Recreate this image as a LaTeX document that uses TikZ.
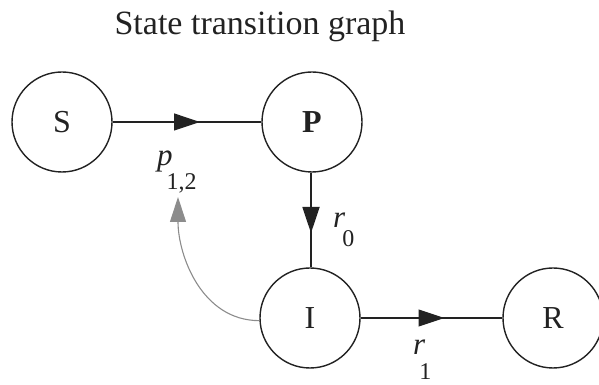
\documentclass[tikz,border=0pt]{standalone}
\usepackage{fontspec}
\setmainfont{Liberation Serif}
\usetikzlibrary{arrows.meta,decorations.markings}
\definecolor{ink}{HTML}{222222}
\definecolor{grayarrow}{HTML}{8C8C8C}
\tikzset{
  stnode/.style={circle,draw=ink,line width=1.4pt,minimum size=100pt,inner sep=0pt,text=ink,font=\fontsize{32}{32}\selectfont},
  edge/.style={draw=ink,line width=1.2pt},
  midarrow/.style={postaction={decorate},decoration={markings,mark=at position 0.5 with {\arrow[xshift=13pt]{Triangle[length=26pt,width=17pt]}}}},
  lbl/.style={text=ink,inner sep=0pt,font=\fontsize{31}{31}\selectfont},
}
\begin{document}
\begin{tikzpicture}[x=1pt,y=1pt]
\useasboundingbox (0,0) rectangle (599,385);
\node[anchor=base,text=ink,font=\fontsize{34}{34}\selectfont] (title) at (260,350) {State transition graph};
\node[stnode] (S) at (62,263) {S};
\node[stnode] (P) at (312,263) {\textbf{P}};
\node[stnode] (I) at (310,67) {I};
\node[stnode] (R) at (553,67) {R};
\draw[edge,midarrow] (S) -- (P);
\draw[edge,line width=1.8pt,midarrow] (P.south -| 311,0) -- (I.north -| 311,0);
\draw[edge,midarrow] (I) -- (R);
\coordinate (ptip) at (178,188);
\draw[grayarrow,line width=1.1pt,-{Triangle[length=25pt,width=16pt]}] (I.183) to[out=180,in=-90] (ptip);
\node[lbl,anchor=base west] (p12) at (157,219) {\textit{p}\kern-6pt\raisebox{-24pt}{\fontsize{24}{24}\selectfont 1,2}};
\node[lbl,anchor=base west] (r0) at (333,157) {\textit{r}\kern-3pt\raisebox{-19pt}{\fontsize{24}{24}\selectfont 0}};
\node[lbl,anchor=base west] (r1) at (413,30) {\textit{r}\kern-6pt\raisebox{-25pt}{\fontsize{24}{24}\selectfont 1}};
\end{tikzpicture}
\end{document}
